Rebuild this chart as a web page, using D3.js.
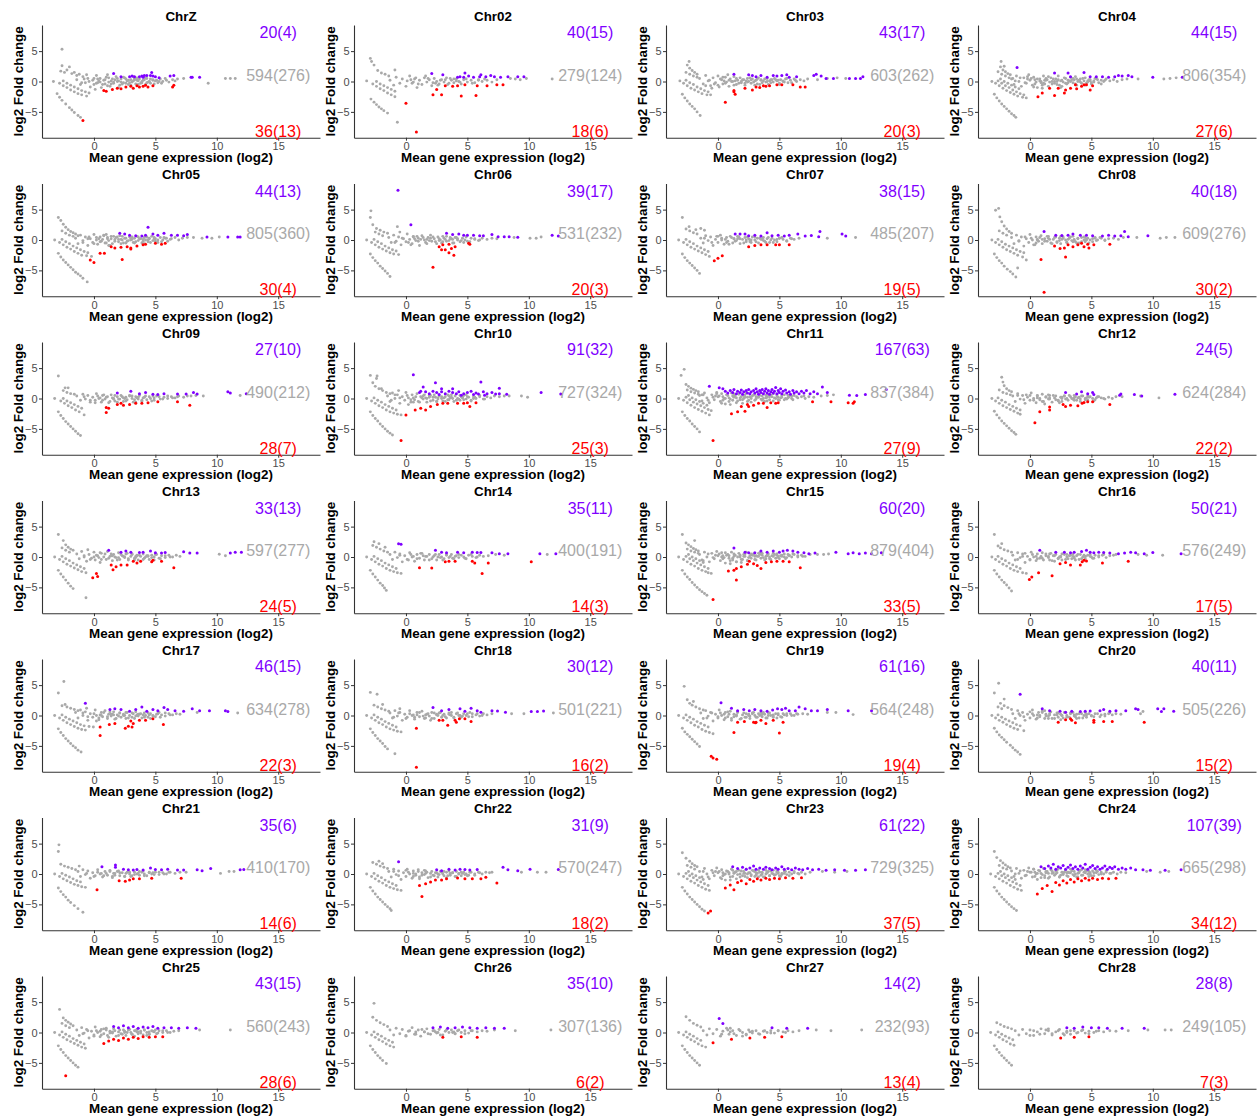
<!DOCTYPE html>
<html><head><meta charset="utf-8">
<script src="https://cdn.jsdelivr.net/npm/d3@7"></script>
<style>
body{margin:0;background:#fff}
svg{display:block}
text{font-family:"Liberation Sans",Arial,Helvetica,sans-serif}
</style>
</head><body>
<svg id="chart" width="1257" height="1118"></svg>
<script>
// MA plots per chromosome: mean expression (log2) vs log2 fold change
const chromosomes = ["ChrZ","Chr02","Chr03","Chr04","Chr05","Chr06","Chr07","Chr08","Chr09","Chr10","Chr11","Chr12","Chr13","Chr14","Chr15","Chr16","Chr17","Chr18","Chr19","Chr20","Chr21","Chr22","Chr23","Chr24","Chr25","Chr26","Chr27","Chr28"];
const upCounts   = [20,40,43,44,44,39,38,40,27,91,167,24,33,35,60,50,46,30,61,40,35,31,61,107,43,35,14,28];
const upUnique   = [4,15,17,15,13,17,15,18,10,32,63,5,13,11,20,21,15,12,16,11,6,9,22,39,15,10,2,8];
const nsCounts   = [594,279,603,806,805,531,485,609,490,727,837,624,597,400,879,576,634,501,564,505,410,570,729,665,560,307,232,249];
const nsUnique   = [276,124,262,354,360,232,207,276,212,324,384,284,277,191,404,249,278,221,248,226,170,247,325,298,243,136,93,105];
const downCounts = [36,18,20,27,30,20,19,30,28,25,27,22,24,14,33,17,22,16,19,15,14,18,37,34,28,6,13,7];
const downUnique = [13,6,3,6,4,3,5,2,7,3,9,2,5,3,5,5,3,2,4,2,6,2,5,12,6,2,4,3];
const xTicks = [0,5,10,15];
const yTicks = [-5,0,5];

// non-significant genes ("x y" pairs: mean log2 expression, log2 fold change)
const nsPoints = [
"-3.3 0,-2.6 5.3,-2.6 2.6,-2.7 1.7,-2.0 2.4,-2.4 1.5,-2.2 1.9,-1.8 1.3,-1.6 1.5,-1.4 1.0,-1.2 1.2,-2.8 -0.3,-2.5 -0.7,-2.2 -1.0,-1.9 -1.4,-1.6 -1.7,-1.3 -2.0,-1.0 -2.2,-0.6 -2.4,-2.5 0.1,-2.2 -0.3,-1.9 -0.6,-1.6 -0.9,-1.3 -1.2,-1.0 -1.5,-0.7 -1.7,-0.4 -1.9,-3.0 -2.0,-2.8 -2.6,-2.6 -3.1,-2.3 -3.7,-2.0 -4.3,-1.8 -4.7,-1.6 -5.1,-1.3 -5.6,-1.1 -5.9,-1.4 0.3,-1.1 -0.5,-0.9 0.8,-0.7 -0.2,-0.5 0.5,-0.3 -0.9,-0.1 0.2,0 -0.5,0.2 1.0,0.3 -0.2,0.5 0.5,0.6 -1.0,0.8 0.2,0.9 -0.4,1.0 0.7,1.2 -0.1,1.3 -0.8,1.5 0.4,1.6 -0.3,1.8 0.8,1.9 0,2.1 -0.6,2.2 0.4,2.4 -0.2,2.5 0.6,2.7 0.1,2.8 -0.5,3.0 0.3,3.1 -0.1,3.3 0.5,3.4 -0.4,3.6 0.1,3.7 0.4,3.9 -0.2,4.0 0.2,4.2 -0.5,4.3 0.5,4.5 0,4.6 -0.3,4.8 0.3,5.0 0.1,5.2 -0.2,5.4 0.4,5.6 0,5.9 0.2,6.1 -0.1,6.4 0.3,6.6 0.1,-0.6 1.1,0.1 -1.3,1.1 1.1,2.0 -1.0,3.2 0.8,0.4 0.1,1.4 0.1,2.6 -0.3,3.5 0.2,4.4 -0.1,6.8 0.4,7.3 0.5,9.3 -0.3,10.7 0.5,11.1 0.5,11.5 0.5",
"-3.2 0.1,-2.9 3.8,-2.8 3.3,-2.6 2.7,-2.0 1.4,-0.9 1.9,-2.3 1.8,-1.7 1.2,-1.4 0.9,-2.7 -0.4,-2.4 -0.8,-2.1 -1.2,-1.8 -1.5,-1.5 -1.9,-1.2 -2.2,-0.9 -2.5,-2.4 0,-2.1 -0.4,-1.8 -0.7,-1.5 -1.0,-1.2 -1.3,-0.9 -1.6,-2.85 -2.9,-2.6 -3.4,-2.4 -3.8,-2.2 -4.2,-2.0 -4.5,-1.8 -4.8,-1.5 -5.2,-0.7 -6.7,-1.3 0.2,-1.0 -0.6,-0.8 0.7,-0.5 -0.3,-0.3 0.4,0 -0.8,0.1 0.1,0.3 0.9,0.5 -0.3,0.7 0.4,0.9 -1.0,1.1 0.2,1.3 -0.5,1.5 0.6,1.7 -0.1,1.9 0.3,2.1 -0.7,2.3 0.5,2.5 0,2.7 -0.4,2.9 0.3,3.1 -0.1,3.3 0.6,3.5 -0.3,3.7 0.2,3.9 -0.2,4.1 0.4,4.3 0,4.5 -0.4,4.7 0.3,5.0 -0.1,5.3 0.2,5.6 -0.2,5.9 0.3,6.2 0,6.6 0.2,7.0 -0.1,7.4 0.3,0.6 -0.1,1.6 0.9,2.4 -0.3,3.6 0.5,8.5 0.5,8.9 0.4,9.3 0.3,9.8 0.5,11.9 0.4",
"-3.1 0.1,-2.35 3.3,-2.5 2.7,-2.3 2.2,-2.1 1.8,-1.9 1.5,-1.7 1.2,-2.6 1.5,-2.3 1.2,-2.0 0.9,-1.7 0.7,-2.8 -0.3,-2.5 -0.7,-2.2 -1.1,-1.9 -1.4,-1.6 -1.7,-1.3 -2.0,-0.9 -2.2,-0.6 -2.2,-2.6 0.2,-2.3 -0.2,-2.0 -0.5,-1.7 -0.9,-1.4 -1.2,-1.1 -1.5,-0.8 -1.7,-2.9 -2.1,-2.7 -2.7,-2.5 -3.2,-2.3 -3.7,-2.1 -4.1,-1.9 -4.5,-1.7 -5.0,-1.45 -5.6,-1.5 0.5,-1.2 -0.4,-1.0 1.0,-0.8 0.1,-0.6 -0.7,-0.4 0.6,-0.2 -0.2,0 0.9,0.1 -0.9,0.3 0.3,0.4 -0.4,0.6 0.7,0.7 -0.1,0.9 -0.8,1.0 0.4,1.2 0,1.3 0.8,1.5 -0.5,1.6 0.2,1.8 0.6,1.9 -0.2,2.1 0.3,2.2 -0.6,2.4 0.5,2.5 0,2.7 -0.3,2.8 0.4,3.0 0.1,3.2 -0.4,3.3 0.6,3.5 0.2,3.6 -0.2,3.8 0.4,4.0 0,4.1 -0.5,4.3 0.3,4.5 -0.1,4.6 0.5,4.8 0.1,5.0 -0.3,5.1 0.3,5.3 0,5.5 0.4,5.7 -0.2,5.9 0.2,6.2 0.4,6.4 0,6.7 0.3,7.0 0.1,7.3 0.4,0.5 0.1,1.4 0.1,2.3 0.1,3.1 0.2,4.2 0.1,-0.5 -1.1,0.8 1.1,8.1 0.3,8.9 0.5,9.7 0.6,10.4 0.5",
"-3.1 0,-2.35 3.3,-2.1 2.5,-2.4 2.4,-2.2 1.9,-2.0 1.6,-1.8 1.3,-1.6 1.1,-2.6 1.6,-2.3 1.2,-2.0 0.9,-1.7 0.6,-1.4 0.5,-2.8 -0.3,-2.5 -0.7,-2.2 -1.1,-1.9 -1.5,-1.6 -1.8,-1.3 -2.1,-1.0 -2.4,-0.6 -2.6,-0.3 -2.7,-2.6 0.1,-2.3 -0.3,-2.0 -0.7,-1.7 -1.0,-1.4 -1.4,-1.1 -1.7,-0.8 -2.0,-0.5 -2.2,-2.4 0.4,-2.1 0,-1.8 -0.3,-1.5 -0.6,-1.2 -0.9,-0.9 -1.2,-2.9 -2.1,-2.7 -2.7,-2.5 -3.2,-2.3 -3.7,-2.1 -4.1,-1.9 -4.5,-1.7 -4.9,-1.5 -5.3,-1.3 -5.6,-1.15 -5.9,-1.5 0.4,-1.3 -0.5,-1.1 0.9,-0.9 0,-0.7 -0.8,-0.5 0.6,-0.3 -0.3,-0.1 1.1,0 0.2,0.2 -0.6,0.3 0.7,0.5 -0.1,0.6 -1.0,0.8 0.4,0.9 0,1.1 0.9,1.2 -0.4,1.4 0.3,1.5 -0.8,1.7 0.6,1.8 0,2.0 -0.3,2.1 0.4,2.3 0.9,2.4 -0.6,2.6 0.2,2.7 -0.1,2.9 0.5,3.0 -0.4,3.2 0.1,3.3 0.7,3.5 -0.2,3.6 0.3,3.8 -0.6,3.9 0,4.1 0.4,4.2 -0.3,4.4 0.1,4.5 0.6,4.7 -0.1,4.8 0.3,5.0 -0.4,5.2 0.1,5.4 0.5,5.6 -0.2,5.8 0.2,6.0 0,6.2 0.4,6.5 0.1,6.8 0.3,7.1 0,7.5 0.3,7.9 0.4,0.4 0.3,1.3 0.2,2.2 0,3.1 0.2,4.0 0.2,4.9 0.1,-0.2 0.4,1.0 -1.1,2.5 -1.0,3.7 0.8,8.8 0.4,10.9 0.4,11.4 0.5,11.9 0.6",
"-3.2 0,-2.9 3.7,-2.7 3.2,-2.5 2.6,-2.3 2.1,-2.1 1.7,-1.9 1.4,-1.7 1.2,-1.5 1.0,-2.6 1.5,-2.3 1.1,-2.0 0.8,-1.7 0.6,-2.8 -0.4,-2.5 -0.8,-2.2 -1.2,-1.9 -1.5,-1.6 -1.9,-1.3 -2.2,-1.0 -2.5,-0.6 -2.6,-0.2 -2.7,-2.6 0.1,-2.3 -0.3,-2.0 -0.6,-1.7 -1.0,-1.4 -1.3,-1.1 -1.6,-0.8 -1.9,-0.5 -2.1,-2.9 -2.2,-2.7 -2.8,-2.5 -3.3,-2.3 -3.7,-2.1 -4.1,-1.9 -4.5,-1.7 -4.9,-1.5 -5.3,-1.3 -5.6,-1.1 -5.9,-0.9 -6.3,-0.55 -6.9,-1.5 0.3,-1.3 -0.6,-1.1 0.8,-0.9 -0.1,-0.7 0.5,-0.5 -0.9,-0.3 0.2,-0.1 -0.4,0 0.9,0.2 0,0.3 -0.7,0.5 0.5,0.6 -0.2,0.8 0.8,0.9 -0.5,1.1 0.2,1.2 -0.1,1.4 0.6,1.5 -0.6,1.7 0.1,1.8 0.4,2.0 -0.3,2.1 0.7,2.3 0,2.4 -0.5,2.6 0.3,2.7 -0.2,2.9 0.5,3.0 0,3.2 -0.4,3.3 0.3,3.5 0.6,3.6 -0.1,3.8 0.2,3.9 -0.5,4.1 0.4,4.2 0,4.4 -0.3,4.5 0.3,4.7 0.6,4.8 -0.1,5.0 0.2,5.2 -0.4,5.4 0.4,5.6 0,5.8 0.3,6.0 -0.2,6.3 0.2,6.6 0.4,6.9 0,7.2 0.3,7.6 0.4,0.4 0.2,1.3 -0.9,2.2 0.1,3.1 0.1,4.0 0.1,4.9 0.2,-0.4 0.5,1.0 0.9,8.1 0.4,8.8 0.3,9.6 0.3,10.2 0.5",
"-3.2 0,-2.85 4.8,-2.9 3.7,-2.7 2.5,-2.4 1.9,-2.1 1.6,-1.8 1.3,-0.7 2.2,-1.5 1.1,-2.5 1.3,-2.2 1.0,-1.9 0.7,-2.8 -0.4,-2.5 -0.8,-2.2 -1.2,-1.9 -1.5,-1.6 -1.8,-1.3 -2.1,-1.0 -2.3,-0.6 -2.4,-2.6 0.1,-2.3 -0.3,-2.0 -0.6,-1.7 -1.0,-1.4 -1.3,-1.1 -1.6,-0.8 -1.8,-2.9 -2.3,-2.7 -2.9,-2.5 -3.4,-2.3 -3.8,-2.1 -4.3,-1.9 -4.7,-1.7 -5.1,-1.5 -5.5,-1.3 -6.0,-1.4 0.4,-1.2 -0.4,-1.0 0.8,-0.8 -0.2,-0.6 0.5,-0.4 -0.8,-0.2 0.2,0 -0.3,0.1 1.0,0.3 0.1,0.5 -0.6,0.6 0.6,0.8 -0.1,1.0 0.3,1.1 -0.9,1.3 0.7,1.5 0,1.6 -0.4,1.8 0.4,2.0 0.8,2.1 -0.2,2.3 0.2,2.5 -0.6,2.6 0.5,2.8 0,3.0 -0.3,3.1 0.3,3.3 0.6,3.5 -0.1,3.7 0.2,3.8 -0.5,4.0 0.4,4.2 0,4.4 -0.3,4.6 0.3,4.8 0,5.0 -0.2,5.3 0.3,5.6 0.1,5.9 -0.1,6.2 0.3,6.6 0.1,7.0 0.3,7.4 0.2,0.7 0.2,1.7 0.1,2.7 -0.1,3.6 0.2,-0.5 1.3,8.8 0.4,10.1 0.3,10.6 0.3,11.0 0.5",
"-3.2 0,-2.9 3.7,-2.35 2.2,-1.4 1.9,-2.6 1.8,-2.3 1.5,-2.0 1.2,-1.7 1.0,-1.1 1.6,-1.8 1.7,-2.8 -0.4,-2.5 -0.8,-2.2 -1.2,-1.9 -1.5,-1.6 -1.8,-1.3 -2.1,-1.0 -2.4,-0.7 -2.7,-2.6 0.1,-2.3 -0.3,-2.0 -0.6,-1.7 -1.0,-1.4 -1.3,-1.1 -1.6,-0.8 -1.9,-2.9 -2.3,-2.7 -2.9,-2.5 -3.4,-2.3 -3.8,-2.1 -4.2,-1.9 -4.6,-1.7 -5.0,-1.5 -5.5,-1.4 0.3,-1.2 -0.5,-1.0 0.7,-0.8 -0.1,-0.6 0.5,-0.4 -0.9,-0.2 0.1,0 -0.4,0.2 0.8,0.3 0,0.5 -0.7,0.7 0.4,0.8 -0.2,1.0 0.6,1.2 -0.5,1.3 0.2,1.5 -0.1,1.7 0.5,1.8 -0.6,2.0 0.1,2.2 0.4,2.3 -0.3,2.5 0.2,2.7 -0.4,2.8 0.5,3.0 0,3.2 0.3,3.3 -0.5,3.5 0.1,3.7 0.4,3.8 -0.2,4.0 0.2,4.2 -0.4,4.4 0.3,4.6 0,4.8 -0.3,5.0 0.3,5.3 0.1,5.6 -0.1,5.9 0.3,6.2 0.1,6.6 0.3,0.6 0.1,1.6 0.2,2.6 0,3.6 0.1,-0.1 0.6,8.9 0.3,11.2 0.4",
"-3.1 0,-2.8 4.9,-2.55 5.2,-2.45 3.8,-2.3 3.0,-2.1 2.3,-1.9 1.8,-1.7 1.4,-1.5 1.1,-2.5 1.5,-2.2 1.1,-1.9 0.8,-2.8 -0.4,-2.5 -0.8,-2.2 -1.2,-1.9 -1.6,-1.6 -1.9,-1.3 -2.2,-1.0 -2.5,-0.6 -2.8,-0.3 -3.3,-2.6 0.1,-2.3 -0.3,-2.0 -0.7,-1.7 -1.0,-1.4 -1.3,-1.1 -1.6,-0.8 -1.9,-0.5 -2.1,-2.9 -2.3,-2.7 -2.9,-2.5 -3.4,-2.3 -3.8,-2.1 -4.3,-1.85 -4.8,-1.6 -5.2,-1.4 -5.6,-1.15 -6.1,-1.0 -4.6,-1.5 0.4,-1.3 -0.6,-1.1 0.8,-0.9 -0.1,-0.7 0.5,-0.5 -1.0,-0.3 0.2,-0.1 -0.4,0 0.9,0.2 0,0.4 -0.8,0.5 0.5,0.7 -0.2,0.9 0.7,1.0 -0.6,1.2 0.2,1.4 -0.2,1.5 0.6,1.7 -0.5,1.9 0.1,2.0 0.4,2.2 -0.3,2.4 0.3,2.5 -0.6,2.7 0.5,2.9 0,3.0 -0.4,3.2 0.3,3.4 -0.1,3.5 0.6,3.7 -0.3,3.9 0.2,4.0 -0.5,4.2 0.4,4.4 0,4.5 -0.3,4.7 0.3,4.9 0,5.1 -0.3,5.3 0.3,5.5 0,5.8 0.3,6.1 -0.1,6.4 0.2,6.8 0.3,7.2 0.1,7.6 0.4,0.6 0.1,1.6 0.1,2.6 0.1,3.6 0.1,4.6 0.1,8.7 0.4,10.6 0.3,11.1 0.4,11.8 0.4",
"-3.2 0,-2.9 3.7,-2.35 1.75,-2.1 1.75,-2.5 1.3,-2.2 1.0,-1.9 0.8,-1.6 0.7,-2.7 -0.4,-2.4 -0.8,-2.1 -1.2,-1.8 -1.5,-1.5 -1.9,-1.2 -2.2,-0.8 -2.7,-2.5 0,-2.2 -0.4,-1.9 -0.7,-1.6 -1.0,-1.3 -1.3,-1.0 -1.6,-2.9 -2.2,-2.7 -2.8,-2.5 -3.3,-2.3 -3.8,-2.1 -4.2,-1.9 -4.6,-1.7 -5.0,-1.5 -5.4,-1.3 -5.8,-1.1 -6.1,-1.4 0.4,-1.1 -0.3,-0.9 0.7,-0.7 -0.1,-0.5 0.5,-0.3 -0.6,-0.1 0.2,0.1 -0.3,0.2 0.8,0.4 0,0.6 -0.6,0.7 0.5,0.9 -0.1,1.1 0.3,1.2 -0.7,1.4 0.6,1.6 0,1.7 -0.4,1.9 0.3,2.1 -0.1,2.2 0.5,2.4 -0.5,2.6 0.2,2.7 -0.2,2.9 0.4,3.1 0,3.2 -0.6,3.4 0.3,3.6 -0.1,3.7 0.5,3.9 -0.3,4.1 0.2,4.3 -0.2,4.5 0.3,4.7 -0.4,4.9 0.1,5.1 0.4,5.4 -0.1,5.7 0.2,6.0 0,6.3 0.3,6.6 0.1,6.9 0.4,7.3 0.2,7.6 0.4,7.9 0.4,8.3 0.5,8.9 0.4,0.5 0.1,1.5 0.1,2.5 0,3.5 0.1,11.9 0.5",
"-3.2 0,-2.9 3.8,-2.4 3.3,-2.35 3.7,-2.0 1.6,-2.7 2.6,-2.5 2.0,-2.2 1.6,-1.9 1.3,-1.6 1.0,-1.3 0.8,-2.8 -0.4,-2.5 -0.8,-2.2 -1.2,-1.9 -1.5,-1.6 -1.9,-1.3 -2.2,-1.0 -2.4,-0.7 -2.6,-0.4 -2.7,-2.6 0.1,-2.3 -0.3,-2.0 -0.6,-1.7 -1.0,-1.4 -1.3,-1.1 -1.6,-0.8 -1.9,-2.9 -2.2,-2.7 -2.8,-2.5 -3.3,-2.3 -3.7,-2.1 -4.2,-1.9 -4.6,-1.7 -5.0,-1.5 -5.4,-1.3 -5.7,-1.1 -6.0,-1.5 0.4,-1.3 -0.5,-1.1 0.9,-0.9 0,-0.7 0.6,-0.5 -0.8,-0.3 0.3,-0.1 -0.3,0 1.0,0.2 0.1,0.4 -0.6,0.5 0.6,0.7 -0.2,0.9 0.8,1.0 -0.5,1.2 0.3,1.4 -0.1,1.5 0.6,1.7 -0.6,1.9 0.2,2.0 0.5,2.2 -0.3,2.4 0.2,2.5 -0.5,2.7 0.4,2.9 0,3.0 -0.4,3.2 0.3,3.4 0.6,3.5 -0.2,3.7 0.2,3.9 -0.5,4.0 0.4,4.2 0,4.4 -0.3,4.5 0.3,4.7 0.5,4.9 -0.1,5.1 0.2,5.3 -0.3,5.5 0.3,5.7 0,6.0 0.3,6.3 -0.1,6.6 0.3,6.9 0.1,7.2 0.4,7.6 0.3,8.0 0.4,0.6 0.1,1.6 0.1,2.6 0.1,3.6 0.1,4.6 0.1,-0.6 1.3,8.4 0.4,9.4 0.4,9.9 0.2",
"-3.2 0,-3.0 3.8,-2.75 4.8,-2.6 2.3,-2.4 2.0,-2.2 1.7,-2.0 1.5,-1.8 1.3,-1.6 1.1,-2.5 1.4,-2.2 1.1,-1.9 0.9,-1.6 0.7,-1.3 0.6,-2.8 -0.3,-2.5 -0.7,-2.2 -1.1,-1.9 -1.5,-1.6 -1.8,-1.3 -2.1,-1.0 -2.4,-0.7 -2.7,-2.6 0.2,-2.3 -0.2,-2.0 -0.6,-1.7 -0.9,-1.4 -1.2,-1.1 -1.5,-0.8 -1.8,-0.55 -2.0,-2.4 0.5,-2.1 0.1,-1.8 -0.2,-1.5 -0.5,-1.2 -0.8,-0.9 -1.1,-2.9 -2.2,-2.7 -2.8,-2.5 -3.3,-2.3 -3.7,-2.1 -4.2,-1.9 -4.6,-1.7 -5.0,-1.5 -5.5,-1.5 0.5,-1.3 -0.4,-1.1 0.9,-0.9 0.1,-0.7 -0.7,-0.5 0.6,-0.3 -0.2,-0.1 1.0,0 0.3,0.2 -0.5,0.3 0.8,0.5 0,0.6 -0.9,0.8 0.5,0.9 0.1,1.1 0.9,1.2 -0.3,1.4 0.4,1.5 -0.7,1.7 0.7,1.8 0.1,2.0 -0.2,2.1 0.5,2.3 0.9,2.4 -0.5,2.6 0.3,2.7 0,2.9 0.6,3.0 -0.3,3.2 0.2,3.3 0.8,3.5 -0.1,3.6 0.4,3.8 -0.5,3.9 0.1,4.1 0.6,4.2 -0.2,4.4 0.3,4.5 0.8,4.7 0,4.8 0.4,5.0 -0.3,5.2 0.2,5.4 0.6,5.6 -0.1,5.8 0.3,6.0 0,6.2 0.5,6.5 0.1,6.8 0.3,7.1 0,7.4 0.3,7.8 0.2,0.4 0.3,1.3 0.2,2.2 0.2,3.1 0.3,4.0 0.2,4.9 0.2,5.7 0.5,-0.2 0.4,1.0 -1.0,2.0 -0.8,8.4 0.4,8.9 0.5,9.4 0.6",
"-3.1 0,-2.3 3.5,-2.2 2.7,-2.1 2.1,-1.9 1.6,-1.7 1.3,-1.5 1.1,-2.5 1.4,-2.2 1.0,-1.9 0.8,-1.6 0.6,-2.8 -0.4,-2.5 -0.8,-2.2 -1.2,-1.9 -1.5,-1.6 -1.8,-1.3 -2.1,-1.0 -2.4,-0.8 -2.6,-2.6 0.1,-2.3 -0.3,-2.0 -0.6,-1.7 -1.0,-1.4 -1.3,-1.1 -1.6,-0.8 -1.9,-2.9 -2.1,-2.7 -2.7,-2.5 -3.2,-2.3 -3.7,-2.1 -4.1,-1.9 -4.5,-1.7 -4.9,-1.5 -5.3,-1.3 -5.6,-1.15 -5.9,-1.4 0.4,-1.2 -0.5,-1.0 0.8,-0.8 -0.1,-0.6 0.5,-0.4 -0.8,-0.2 0.2,0 -0.3,0.1 0.9,0.3 0,0.5 -0.7,0.6 0.5,0.8 -0.2,1.0 0.7,1.1 -0.5,1.3 0.2,1.5 -0.1,1.6 0.5,1.8 -0.6,2.0 0.1,2.1 0.4,2.3 -0.3,2.5 0.2,2.6 -0.5,2.8 0.4,3.0 0,3.1 -0.3,3.3 0.3,3.5 -0.1,3.6 0.5,3.8 -0.3,4.0 0.2,4.1 -0.1,4.3 0.4,4.5 0,4.7 -0.3,4.9 0.3,5.1 0,5.3 -0.2,5.5 0.3,5.8 0.1,6.1 -0.1,6.4 0.2,6.7 0,7.0 0.3,0.6 0.1,1.6 0.1,2.6 0,3.6 0.1,4.6 0.1,-0.3 0.6,7.5 0.3,9.0 0.4,10.5 0.1",
"-3.2 0,-2.9 3.7,-2.5 2.7,-2.3 2.0,-2.1 1.6,-1.9 1.3,-1.7 1.1,-2.6 1.5,-2.3 1.1,-2.0 0.8,-2.8 -0.4,-2.5 -0.8,-2.2 -1.2,-1.9 -1.5,-1.6 -1.8,-1.3 -2.1,-1.0 -2.4,-0.65 -2.6,-2.6 0.1,-2.3 -0.3,-2.0 -0.6,-1.7 -1.0,-1.4 -1.3,-1.1 -1.6,-0.8 -1.9,-2.9 -2.2,-2.7 -2.8,-2.5 -3.3,-2.3 -3.8,-2.1 -4.3,-1.9 -4.8,-1.7 -5.2,-0.65 -6.7,-1.4 0.5,-1.2 -0.3,-1.0 0.9,-0.8 0,-0.6 -0.7,-0.4 0.4,-0.2 -0.2,0 0.8,0.1 -0.5,0.3 0.2,0.5 -0.9,0.6 0.6,0.8 0,1.0 -0.4,1.1 0.9,1.3 0.1,1.5 -0.6,1.6 0.4,1.8 -0.1,2.0 0.7,2.1 -0.4,2.3 0.2,2.5 -0.1,2.6 0.5,2.8 -0.5,3.0 0.1,3.1 0.4,3.3 -0.2,3.5 0.3,3.6 -0.5,3.8 0.1,4.0 0.5,4.1 -0.2,4.3 0.2,4.5 -0.4,4.7 0.3,4.9 0,5.1 0.4,5.3 -0.2,5.5 0.2,5.8 -0.1,6.1 0.3,6.4 0,6.7 0.3,7.0 0.1,0.4 -0.1,1.4 0.2,2.4 0.1,3.4 0.1,4.4 0.1,-0.5 1.2,10.2 0.45,10.7 0.2",
"-3.2 0,-2.6 2.5,-2.2 2.2,-1.7 1.6,-2.7 1.9,-2.4 1.6,-2.1 1.3,-1.8 1.0,-1.5 0.8,-2.8 -0.4,-2.5 -0.8,-2.2 -1.2,-1.9 -1.5,-1.6 -1.9,-1.3 -2.2,-1.0 -2.4,-0.7 -2.6,-0.4 -2.7,-2.6 0.1,-2.3 -0.3,-2.0 -0.6,-1.7 -1.0,-1.4 -1.3,-1.1 -1.6,-0.8 -1.9,-2.9 -2.2,-2.7 -2.8,-2.5 -3.3,-2.3 -3.8,-2.1 -4.3,-1.9 -4.7,-1.75 -5.1,-1.6 -5.5,-1.3 0.4,-1.1 -0.4,-0.9 0.8,-0.7 -0.1,-0.5 0.5,-0.3 -0.8,-0.1 0.2,0.1 -0.4,0.3 0.7,0.5 0,0.7 -0.7,0.9 0.4,1.1 -0.2,1.3 0.6,1.5 -0.5,1.7 0.1,1.9 0.4,2.1 -0.3,2.3 0.2,2.5 -0.5,2.7 0.4,2.9 0,3.1 -0.3,3.3 0.3,3.5 -0.1,3.7 0.4,3.9 -0.3,4.1 0.2,4.3 -0.1,4.5 0.3,4.7 0,4.9 -0.3,5.1 0.3,5.4 0.1,5.7 -0.1,6.0 0.3,6.3 0.1,6.7 0.2,0.6 0.1,1.6 0.1,2.6 0,3.6 0.1,7.3 0.4,8.0 0.3,11.5 0.4",
"-3.2 0,-2.9 3.7,-1.9 2.7,-2.6 2.3,-2.4 2.0,-2.2 1.7,-2.0 1.4,-1.8 1.2,-1.6 1.0,-2.5 1.3,-2.2 1.0,-1.9 0.8,-1.6 0.6,-2.8 -0.4,-2.5 -0.8,-2.2 -1.2,-1.9 -1.5,-1.6 -1.9,-1.3 -2.2,-1.0 -2.4,-0.8 -2.6,-0.55 -2.7,-2.6 0.1,-2.3 -0.3,-2.0 -0.6,-1.7 -1.0,-1.4 -1.3,-1.1 -1.6,-0.8 -1.9,-2.4 0.4,-2.1 0,-1.8 -0.3,-1.5 -0.6,-1.2 -0.9,-2.9 -2.2,-2.7 -2.8,-2.5 -3.3,-2.3 -3.7,-2.1 -4.2,-1.9 -4.6,-1.7 -5.0,-1.5 -5.4,-1.3 -5.7,-1.1 -6.0,-0.9 -6.3,-1.5 0.4,-1.3 -0.5,-1.1 0.8,-0.9 0,-0.7 -0.8,-0.5 0.6,-0.3 -0.3,-0.1 0.9,0 0.2,0.2 -0.6,0.3 0.7,0.5 -0.1,0.6 -1.0,0.8 0.4,0.9 -0.2,1.1 0.8,1.2 -0.5,1.4 0.3,1.5 -0.8,1.7 0.6,1.8 0,2.0 -0.4,2.1 0.4,2.3 0.8,2.4 -0.6,2.6 0.2,2.7 -0.2,2.9 0.5,3.0 -0.4,3.2 0.1,3.3 0.6,3.5 -0.2,3.6 0.3,3.8 -0.5,3.9 0.1,4.1 0.5,4.2 -0.3,4.4 0.2,4.5 0.6,4.7 -0.2,4.8 0.3,5.0 -0.3,5.2 0.1,5.4 0.5,5.6 -0.1,5.8 0.3,6.0 0,6.2 0.4,6.5 0,6.8 0.3,7.1 0.1,7.5 0.4,0.4 0.2,1.3 0.1,2.2 0.1,3.1 0.2,4.0 0.2,4.9 0.1,-0.2 0.3,1.0 -1.1,1.9 -0.9,3.4 0.7,8.1 0.4,8.6 0.4,9.0 0.5",
"-3.1 0,-2.9 3.7,-2.3 2.2,-2.6 1.8,-2.4 1.5,-2.1 1.2,-1.8 1.0,-1.5 0.8,-2.8 -0.4,-2.5 -0.8,-2.2 -1.2,-1.9 -1.5,-1.6 -1.9,-1.3 -2.2,-1.0 -2.4,-0.6 -2.6,-0.3 -2.7,-2.6 0.1,-2.3 -0.3,-2.0 -0.6,-1.7 -1.0,-1.4 -1.3,-1.1 -1.6,-0.8 -1.9,-2.9 -2.2,-2.7 -2.8,-2.5 -3.3,-2.3 -3.8,-2.1 -4.2,-1.9 -4.6,-1.7 -5.1,-1.5 -5.6,-1.4 0.3,-1.2 -0.5,-1.0 0.7,-0.8 -0.1,-0.6 0.5,-0.4 -0.9,-0.2 0.1,0 -0.4,0.1 0.8,0.3 0,0.5 -0.6,0.6 0.5,0.8 -0.2,1.0 0.7,1.1 -0.5,1.3 0.2,1.5 -0.1,1.6 0.5,1.8 -0.6,2.0 0.2,2.1 0.4,2.3 -0.3,2.5 0.1,2.6 -0.5,2.8 0.4,3.0 0,3.1 -0.3,3.3 0.3,3.5 0.5,3.6 -0.2,3.8 0.2,4.0 -0.4,4.1 0.4,4.3 0,4.5 -0.3,4.7 0.3,4.9 0.1,5.1 -0.2,5.3 0.3,5.6 0,5.9 0.3,6.2 -0.1,6.5 0.2,6.8 0.3,0.5 0.1,1.5 0.1,2.5 0,3.5 0.1,4.5 0.1,-0.4 0.6,7.0 0.4,8.8 0.4,9.5 0.3,10.8 0.3",
"-3.2 0,-2.45 5.6,-2.9 3.7,-2.35 1.8,-2.6 1.6,-2.2 1.4,-1.9 1.2,-1.6 1.0,-1.3 0.8,-2.8 -0.4,-2.5 -0.8,-2.2 -1.2,-1.9 -1.5,-1.6 -1.8,-1.3 -2.1,-1.0 -2.3,-0.7 -2.4,-2.6 0.1,-2.3 -0.3,-2.0 -0.6,-1.7 -0.9,-1.4 -1.2,-1.1 -1.5,-0.8 -1.7,-0.4 -1.8,-0.05 -1.9,-2.9 -2.2,-2.7 -2.8,-2.5 -3.3,-2.3 -3.8,-2.1 -4.2,-1.9 -4.6,-1.7 -5.0,-1.5 -5.3,-1.3 -5.7,-1.05 -6.0,-1.5 0.5,-1.3 -0.4,-1.1 0.9,-0.9 0,-0.7 0.6,-0.5 -0.8,-0.3 0.3,-0.1 -0.3,0.1 0.9,0.2 0,0.4 -0.7,0.6 0.5,0.7 -0.2,0.9 0.8,1.1 -0.5,1.2 0.2,1.4 -0.1,1.6 0.6,1.7 -0.6,1.9 0.1,2.1 0.4,2.2 -0.3,2.4 0.2,2.6 -0.5,2.7 0.5,2.9 0,3.1 -0.3,3.2 0.3,3.4 0.6,3.6 -0.1,3.7 0.2,3.9 -0.4,4.1 0.4,4.2 0,4.4 -0.3,4.6 0.3,4.8 0,5.0 -0.2,5.2 0.3,5.5 0.1,5.8 -0.1,6.1 0.3,6.4 0.1,6.7 0.3,7.0 0.2,0.5 0.1,1.5 0.2,2.5 0,3.5 0.1,4.5 0.1,-0.6 1.2,8.4 0.5,11.7 0.4",
"-3.2 0,-2.9 3.8,-2.35 3.5,-1.9 1.8,-2.6 1.7,-2.3 1.4,-2.0 1.1,-1.7 0.9,-1.4 0.7,-2.8 -0.4,-2.5 -0.8,-2.2 -1.2,-1.9 -1.5,-1.6 -1.9,-1.3 -2.2,-1.0 -2.4,-0.7 -2.6,-0.4 -2.7,-2.6 0.1,-2.3 -0.3,-2.0 -0.6,-1.7 -1.0,-1.4 -1.3,-1.1 -1.6,-0.8 -1.9,-2.9 -2.2,-2.7 -2.8,-2.5 -3.3,-2.3 -3.8,-2.1 -4.2,-1.9 -4.6,-1.7 -5.1,-1.5 -5.5,-0.9 -6.3,-1.3 0.4,-1.1 -0.4,-0.9 0.8,-0.7 -0.1,-0.5 0.5,-0.3 -0.8,-0.1 0.2,0.1 -0.3,0.3 0.8,0.5 0,0.7 -0.6,0.9 0.5,1.1 -0.2,1.3 0.7,1.5 -0.5,1.7 0.2,1.9 -0.1,2.1 0.5,2.3 -0.5,2.5 0.2,2.7 0.4,2.9 -0.3,3.1 0.2,3.3 -0.4,3.5 0.4,3.7 0,3.9 -0.3,4.1 0.3,4.3 0,4.5 -0.3,4.7 0.3,4.9 0,5.1 -0.2,5.4 0.3,5.7 0.1,6.0 -0.1,6.3 0.3,6.6 0.1,7.0 0.3,0.6 0.1,1.6 0.1,2.6 0,3.6 0.1,-0.5 1.1,8.6 0.3,9.6 0.3,12.0 0.4",
"-3.2 0,-2.75 4.8,-2.5 2.6,-2.0 2.3,-2.3 2.0,-2.1 1.7,-1.8 1.4,-1.5 1.1,-1.2 0.9,-2.8 -0.4,-2.5 -0.8,-2.2 -1.2,-1.9 -1.6,-1.6 -1.9,-1.3 -2.3,-1.0 -2.6,-0.7 -2.8,-0.4 -3.0,-2.6 0.1,-2.3 -0.3,-2.0 -0.6,-1.7 -1.0,-1.4 -1.3,-1.1 -1.6,-0.8 -1.9,-2.9 -2.1,-2.7 -2.7,-2.5 -3.1,-2.3 -3.5,-2.1 -3.9,-1.9 -4.3,-1.7 -4.7,-1.5 -5.1,-1.4 0.4,-1.2 -0.5,-1.0 0.8,-0.8 -0.1,-0.6 0.5,-0.4 -0.9,-0.2 0.2,0 -0.4,0.1 0.9,0.3 0,0.5 -0.7,0.6 0.5,0.8 -0.2,1.0 0.7,1.1 -0.5,1.3 0.2,1.5 -0.1,1.6 0.6,1.8 -0.6,2.0 0.1,2.1 0.4,2.3 -0.3,2.5 0.2,2.6 -0.5,2.8 0.4,3.0 0,3.1 -0.3,3.3 0.3,3.5 0.5,3.6 -0.2,3.8 0.2,4.0 -0.4,4.1 0.4,4.3 0,4.5 -0.3,4.7 0.3,4.9 0.1,5.1 -0.2,5.3 0.3,5.6 0,5.9 0.3,6.2 0,6.5 0.2,6.9 0.3,7.3 0.2,0.5 0.2,1.5 0.1,2.5 0,3.5 0.1,4.5 0.1,8.9 0.5,9.6 0.5,11.0 0.15",
"-3.1 0,-2.55 5.3,-2.9 3.7,-2.1 2.7,-2.4 2.0,-2.1 1.6,-1.8 1.3,-1.5 1.0,-2.6 1.4,-2.3 1.1,-2.8 -0.4,-2.5 -0.8,-2.2 -1.1,-1.9 -1.5,-1.6 -1.8,-1.3 -2.1,-1.0 -2.3,-0.5 -2.5,-2.6 0.1,-2.3 -0.3,-2.0 -0.6,-1.7 -0.9,-1.4 -1.2,-1.1 -1.5,-0.8 -1.7,-2.9 -2.1,-2.7 -2.7,-2.5 -3.2,-2.3 -3.6,-2.1 -4.0,-1.9 -4.4,-1.6 -4.9,-1.4 -5.3,-1.2 -5.7,-1.0 -6.0,-0.8 -6.4,-1.4 0.3,-1.2 -0.5,-1.0 0.8,-0.8 0,-0.6 0.5,-0.4 -0.8,-0.2 0.2,0 -0.4,0.2 0.9,0.3 0,0.5 -0.6,0.7 0.5,0.8 -0.2,1.0 0.7,1.2 -0.5,1.3 0.2,1.5 -0.1,1.7 0.6,1.8 -0.5,2.0 0.1,2.2 0.4,2.3 -0.3,2.5 0.2,2.7 -0.4,2.8 0.5,3.0 0,3.2 -0.3,3.3 0.3,3.5 0.5,3.7 -0.2,3.8 0.2,4.0 -0.4,4.2 0.3,4.4 0,4.6 -0.3,4.8 0.3,5.0 0,5.2 -0.2,5.5 0.3,5.8 0.1,6.1 -0.1,6.4 0.3,6.7 0.1,7.0 0.3,7.4 0.2,0.6 0.1,1.6 0.1,2.6 0,3.6 0.1,4.6 0.1,9.0 0.3,9.2 0.65",
"-3.2 0,-2.85 4.8,-2.9 3.7,-2.7 1.6,-2.4 1.3,-2.1 1.1,-1.8 0.9,-1.5 0.7,-1.2 1.3,-2.8 -0.4,-2.5 -0.8,-2.2 -1.1,-1.9 -1.4,-1.6 -1.7,-1.3 -1.9,-1.0 -2.1,-0.7 -2.2,-2.6 0.1,-2.3 -0.2,-2.0 -0.5,-1.7 -0.8,-1.4 -1.1,-1.1 -1.3,-2.9 -2.3,-2.7 -2.9,-2.5 -3.4,-2.3 -3.8,-2.1 -4.3,-1.9 -4.7,-1.6 -5.2,-1.3 -5.7,-0.9 -6.3,-1.3 0.4,-1.1 -0.4,-0.9 0.7,-0.7 -0.1,-0.5 0.5,-0.3 -0.7,-0.1 0.2,0.1 -0.3,0.3 0.7,0.5 0,0.7 -0.5,0.9 0.4,1.1 -0.2,1.3 0.6,1.5 -0.4,1.7 0.1,1.9 0.4,2.1 -0.3,2.3 0.2,2.5 -0.4,2.7 0.3,2.9 0,3.1 -0.3,3.3 0.3,3.5 0,3.7 -0.2,3.9 0.3,4.1 0,4.3 -0.3,4.5 0.2,4.7 0,5.0 0.3,5.3 -0.1,5.6 0.2,5.9 0,6.2 0.3,6.6 0.1,7.0 0.3,0.6 0.1,1.6 0.1,2.6 0.1,3.6 0.1,7.5 0.3,10.3 0.1,11.0 0.4,11.4 0.4",
"-3.2 0,-2.2 2.1,-2.7 1.9,-2.4 1.6,-2.1 1.3,-1.8 1.1,-1.5 0.9,-1.9 1.7,-2.8 -0.4,-2.5 -0.8,-2.2 -1.2,-1.9 -1.5,-1.6 -1.9,-1.3 -2.2,-1.0 -2.4,-0.7 -2.6,-0.4 -2.7,-2.6 0.1,-2.3 -0.3,-2.0 -0.6,-1.7 -1.0,-1.4 -1.3,-1.1 -1.6,-0.8 -1.9,-2.9 -2.2,-2.7 -2.8,-2.5 -3.3,-2.3 -3.8,-2.1 -4.2,-1.9 -4.6,-1.7 -5.0,-1.5 -5.4,-1.3 -5.7,-1.2 -6.0,-1.4 0.4,-1.2 -0.5,-1.0 0.8,-0.8 -0.1,-0.6 0.5,-0.4 -0.9,-0.2 0.2,0 -0.4,0.1 0.8,0.3 0,0.5 -0.7,0.6 0.5,0.8 -0.2,1.0 0.7,1.1 -0.5,1.3 0.2,1.5 -0.1,1.6 0.5,1.8 -0.6,2.0 0.1,2.1 0.4,2.3 -0.3,2.5 0.2,2.6 -0.5,2.8 0.4,3.0 0,3.1 -0.3,3.3 0.3,3.5 0.5,3.6 -0.2,3.8 0.2,4.0 -0.4,4.1 0.4,4.3 0,4.5 -0.3,4.7 0.3,4.9 0,5.1 -0.2,5.3 0.3,5.6 0,5.9 0.3,6.2 0,6.5 0.3,6.8 0.2,0.6 0.1,1.6 0.1,2.6 0,3.6 0.1,4.6 0.1,7.0 0.3,9.4 0.3,10.7 0.3,11.4 0.3",
"-3.2 0,-2.9 3.5,-2.6 2.6,-2.3 2.1,-2.1 1.7,-1.9 1.4,-1.7 1.2,-2.5 1.4,-2.2 1.1,-1.9 0.8,-2.8 -0.4,-2.5 -0.8,-2.2 -1.2,-1.9 -1.5,-1.6 -1.9,-1.3 -2.2,-1.0 -2.5,-0.7 -2.7,-2.6 0.1,-2.3 -0.3,-2.0 -0.6,-1.7 -1.0,-1.4 -1.3,-1.1 -1.6,-0.8 -1.9,-2.4 0.4,-2.1 0,-1.8 -0.3,-1.5 -0.6,-1.2 -0.9,-2.9 -2.2,-2.7 -2.8,-2.5 -3.3,-2.3 -3.8,-2.1 -4.2,-1.9 -4.6,-1.7 -5.0,-1.5 -5.4,-1.3 -5.8,-1.1 -6.1,-1.5 0.4,-1.3 -0.5,-1.1 0.9,-0.9 0,-0.7 -0.8,-0.5 0.6,-0.3 -0.3,-0.1 1.0,0 0.2,0.2 -0.6,0.3 0.7,0.5 -0.1,0.6 -1.0,0.8 0.4,0.9 0,1.1 0.8,1.2 -0.4,1.4 0.3,1.5 -0.8,1.7 0.6,1.8 0,2.0 -0.3,2.1 0.4,2.3 0.8,2.4 -0.6,2.6 0.2,2.7 -0.1,2.9 0.5,3.0 -0.4,3.2 0.1,3.3 0.6,3.5 -0.2,3.6 0.3,3.8 -0.5,3.9 0,4.1 0.4,4.2 -0.3,4.4 0.1,4.5 0.6,4.7 -0.1,4.8 0.3,5.0 -0.3,5.2 0.1,5.4 0.5,5.6 -0.1,5.8 0.3,6.0 0,6.2 0.4,6.5 0.1,6.8 0.3,7.1 0,7.5 0.3,0.4 0.2,1.3 0.1,2.2 0.1,3.1 0.2,4.0 0.2,4.9 0.1,-0.2 0.4,1.0 -1.0,8.5 0.4,9.5 0.3,10.5 0.4",
"-3.2 0,-2.9 3.7,-2.7 2.7,-2.4 2.2,-2.2 1.8,-2.0 1.5,-1.8 1.2,-1.6 1.0,-2.5 1.4,-2.2 1.0,-1.9 0.8,-2.8 -0.4,-2.5 -0.8,-2.2 -1.2,-1.9 -1.5,-1.6 -1.9,-1.3 -2.2,-1.0 -2.5,-0.7 -2.7,-2.6 0.1,-2.3 -0.3,-2.0 -0.6,-1.7 -1.0,-1.4 -1.3,-1.1 -1.6,-0.8 -1.9,-2.4 0.4,-2.1 0,-1.8 -0.3,-1.5 -0.6,-1.2 -0.9,-2.9 -2.2,-2.7 -2.8,-2.5 -3.3,-2.3 -3.8,-2.1 -4.2,-1.9 -4.6,-1.7 -5.0,-1.5 -5.4,-1.3 -5.7,-1.1 -6.0,-1.5 0.5,-1.3 -0.4,-1.1 0.9,-0.9 0.1,-0.7 -0.7,-0.5 0.6,-0.3 -0.2,-0.1 1.0,0 0.3,0.2 -0.5,0.3 0.8,0.5 0,0.6 -0.9,0.8 0.5,0.9 0.1,1.1 0.9,1.2 -0.3,1.4 0.4,1.5 -0.7,1.7 0.7,1.8 0.1,2.0 -0.2,2.1 0.5,2.3 0.9,2.4 -0.5,2.6 0.3,2.7 0,2.9 0.6,3.0 -0.3,3.2 0.2,3.3 0.8,3.5 -0.1,3.6 0.4,3.8 -0.5,3.9 0.1,4.1 0.6,4.2 -0.2,4.4 0.3,4.5 0.7,4.7 0,4.8 0.4,5.0 -0.3,5.2 0.2,5.4 0.6,5.6 -0.1,5.8 0.3,6.0 0,6.2 0.5,6.5 0.1,6.8 0.3,7.1 0,7.4 0.3,7.8 0.2,0.4 0.3,1.3 0.2,2.2 0.2,3.1 0.3,4.0 0.2,4.9 0.2,-0.2 0.4,9.5 0.4,10.6 0.3,11.3 0.4",
"-3.2 0,-2.8 3.8,-2.5 2.4,-2.3 2.0,-2.1 1.7,-1.9 1.4,-1.7 1.1,-2.6 1.5,-2.3 1.1,-2.0 0.8,-2.8 -0.4,-2.5 -0.8,-2.2 -1.2,-1.9 -1.5,-1.6 -1.8,-1.3 -2.1,-1.0 -2.4,-0.7 -2.6,-2.6 0.1,-2.3 -0.3,-2.0 -0.6,-1.7 -1.0,-1.4 -1.3,-1.1 -1.6,-0.8 -1.9,-2.9 -2.2,-2.7 -2.8,-2.5 -3.3,-2.3 -3.8,-2.1 -4.2,-1.9 -4.6,-1.7 -5.0,-1.5 -5.4,-1.3 -5.7,-1.4 0.4,-1.2 -0.5,-1.0 0.8,-0.8 -0.1,-0.6 0.5,-0.4 -0.9,-0.2 0.2,0 -0.4,0.1 0.9,0.3 0,0.5 -0.7,0.6 0.5,0.8 -0.2,1.0 0.7,1.1 -0.5,1.3 0.2,1.5 -0.1,1.6 0.6,1.8 -0.6,2.0 0.1,2.1 0.4,2.3 -0.3,2.5 0.2,2.6 -0.5,2.8 0.4,3.0 0,3.1 -0.3,3.3 0.3,3.5 0.5,3.6 -0.2,3.8 0.2,4.0 -0.4,4.1 0.4,4.3 0,4.5 -0.3,4.7 0.3,4.9 0.1,5.1 -0.2,5.3 0.3,5.6 0,5.9 0.3,6.2 0,6.5 0.2,6.9 0.3,0.5 0.2,1.5 0.1,2.5 0,3.5 0.1,4.5 0.1,8.6 0.4,11.1 0.4",
"-3.2 0,-2.6 4.8,-2.7 2.5,-2.4 2.0,-2.1 1.6,-1.8 1.3,-1.5 1.0,-2.8 -0.4,-2.5 -0.8,-2.2 -1.2,-1.9 -1.5,-1.6 -1.9,-1.3 -2.2,-1.0 -2.4,-2.6 0.1,-2.3 -0.3,-2.0 -0.6,-1.7 -1.0,-1.4 -1.3,-1.1 -1.6,-2.9 -2.2,-2.7 -2.8,-2.5 -3.3,-2.3 -3.8,-2.1 -4.2,-1.9 -4.6,-1.6 -5.1,-1.3 0.4,-1.0 -0.4,-0.8 0.7,-0.5 -0.2,-0.3 0.5,0 -0.6,0.2 0.2,0.5 0.8,0.7 -0.3,1.0 0.4,1.2 -0.6,1.5 0.1,1.7 0.6,2.0 -0.3,2.2 0.3,2.5 -0.1,2.7 0.5,3.0 -0.4,3.2 0.2,3.5 0,3.7 0.4,4.0 -0.2,4.2 0.3,4.5 0,4.8 0.3,5.1 -0.1,5.4 0.3,5.8 0.1,6.2 0.3,6.6 0.2,0.8 0.1,2.4 0.1,3.9 0.1,7.2 0.4,8.9 0.3,11.8 0.4",
"-3.2 0,-2.6 2.6,-2.3 2.0,-2.0 1.5,-1.7 1.2,-1.4 0.9,-2.8 -0.4,-2.5 -0.8,-2.2 -1.2,-1.9 -1.5,-1.6 -1.9,-1.3 -2.2,-1.0 -2.4,-2.6 0.1,-2.3 -0.3,-2.0 -0.6,-1.7 -1.0,-1.4 -1.3,-2.9 -2.2,-2.7 -2.8,-2.5 -3.3,-2.3 -3.8,-2.1 -4.2,-1.9 -4.6,-1.7 -5.0,-1.5 -5.4,-1.2 0.3,-0.9 -0.4,-0.7 0.6,-0.4 -0.2,-0.1 0.5,0.2 -0.6,0.4 0.2,0.7 0.7,0.9 -0.3,1.2 0.3,1.5 -0.5,1.7 0.5,2.0 0,2.3 -0.3,2.5 0.4,2.8 -0.1,3.1 0.3,3.4 -0.3,3.7 0.2,4.0 0,4.3 0.3,4.6 -0.1,4.9 0.3,5.3 0.1,5.7 0.3,6.1 0.1,6.6 0.3,1.0 0.1,2.6 0.1,8.0 0.4,9.2 0.3,11.7 0.4",
"-3.2 0,-2.7 1.6,-2.4 1.3,-2.1 1.0,-1.8 0.8,-1.5 0.6,-2.8 -0.4,-2.5 -0.8,-2.2 -1.2,-1.9 -1.5,-1.6 -1.9,-1.3 -2.1,-2.6 0.1,-2.3 -0.3,-2.0 -0.6,-1.7 -0.9,-1.4 -1.2,-2.9 -2.2,-2.7 -2.8,-2.5 -3.3,-2.3 -3.8,-2.1 -4.2,-1.9 -4.6,-1.7 -5.0,-1.5 -5.4,-1.2 0.3,-0.9 -0.4,-0.6 0.5,-0.3 -0.2,0 0.4,0.3 -0.5,0.6 0.1,0.9 0.6,1.2 -0.2,1.5 0.3,1.8 -0.4,2.1 0.1,2.4 0.5,2.7 -0.2,3.0 0.2,3.3 -0.3,3.6 0.3,3.9 0,4.2 0.3,4.5 -0.1,4.8 0.2,5.2 0,5.6 0.3,6.0 0.1,6.5 0.3,7.0 0.2,8.0 0.3,9.6 0.4,11.0 0.4,11.5 0.4",
"-3.2 0,-2.6 2.2,-2.3 1.7,-2.0 1.3,-1.7 1.0,-1.4 0.8,-2.8 -0.4,-2.5 -0.8,-2.2 -1.2,-1.9 -1.5,-1.6 -1.9,-1.3 -2.2,-2.6 0.1,-2.3 -0.3,-2.0 -0.6,-1.7 -1.0,-1.4 -1.3,-2.9 -2.2,-2.7 -2.8,-2.5 -3.3,-2.3 -3.8,-2.1 -4.2,-1.9 -4.6,-1.7 -5.0,-1.5 -5.4,-1.2 0.3,-0.9 -0.4,-0.7 0.6,-0.4 -0.2,-0.1 0.5,0.2 -0.6,0.4 0.2,0.7 0.7,0.9 -0.3,1.2 0.3,1.5 -0.5,1.7 0.5,2.0 0,2.3 -0.3,2.5 0.4,2.8 -0.1,3.1 0.3,3.4 -0.3,3.7 0.2,4.0 0,4.3 0.3,4.6 -0.1,4.9 0.3,5.3 0.1,5.7 0.3,6.1 0.1,6.6 0.3,1.0 0.1,2.6 0.1,7.8 0.4,9.0 0.4,11.4 0.4"
];

// further non-significant genes packed in the dense core of each cloud
const nsCorePoints = [
"0.3 0.4,0.7 -0.5,1.2 0.6,1.4 -0.4,1.7 0.3,2.0 0.1,2.3 -0.4,2.4 0.7,2.8 0.2,3.0 -0.6,3.2 0.1,3.5 0.6,3.8 -0.3,4.1 0.3,4.3 -0.2,4.6 0.4,4.9 -0.4,5.1 0.2,5.5 -0.3,5.8 0.5,0.0 0.5,0.5 -0.1,0.9 0.3,1.1 -0.7,1.6 -0.1,1.9 0.5,2.2 -0.1,2.6 0.4,2.9 -0.2,3.3 0.3,3.6 -0.5,3.9 0.0,4.2 0.6,4.5 -0.1,4.8 0.2,5.3 0.0,-0.4 0.0,-0.8 0.4,-1.0 -0.2,0.2 -0.3",
"0.4 0.3,1.0 -0.4,1.8 0.5,2.2 -0.2,2.8 0.2,3.4 -0.5,3.9 0.4,4.4 -0.1,4.9 0.4,5.4 -0.3,5.9 0.2,6.4 0.4,0.8 0.6,2.6 -0.6,3.2 0.3,4.1 0.1",
"0.2 0.4,0.6 -0.3,0.9 0.2,1.3 -0.6,1.5 0.5,1.9 0.0,2.2 -0.3,2.6 0.6,2.9 -0.1,3.2 0.4,3.4 -0.5,3.7 0.1,4.0 0.5,4.3 -0.2,4.7 0.3,5.0 -0.5,5.3 0.1,5.6 0.5,6.0 -0.2,6.3 0.2,0.0 -0.6,0.4 0.7,1.1 0.0,1.7 -0.3,2.0 0.3,2.4 -0.1,2.7 0.3,3.0 -0.6,3.5 0.3,3.9 -0.1,4.4 0.3,4.9 0.2,5.4 -0.1,-0.7 0.2,-1.0 -0.7,-0.3 -0.4",
"0.1 0.5,0.4 -0.4,0.8 0.1,1.0 -0.6,1.3 0.5,1.6 -0.1,1.9 0.4,2.2 -0.5,2.5 0.1,2.8 0.6,3.1 -0.2,3.4 0.3,3.7 -0.4,4.0 0.1,4.3 0.5,4.6 -0.3,4.9 0.3,5.2 -0.1,5.5 0.3,5.8 -0.4,6.1 0.2,0.6 0.4,1.2 0.2,1.8 -0.4,2.3 0.3,2.9 -0.3,3.5 0.5,4.1 -0.1,4.7 0.1,5.3 0.5,-0.4 -0.2,-0.8 0.6,-1.2 0.1,0.3 -0.9,1.5 0.8,2.6 -0.8,3.3 0.0,4.5 -0.6,0.9 -0.2,2.0 0.0,3.8 0.4,5.0 -0.2,-0.2 0.8,1.1 -0.3",
"0.2 0.4,0.5 -0.3,0.8 0.7,1.0 -0.5,1.4 0.2,1.7 -0.2,1.9 0.5,2.2 -0.6,2.5 0.3,2.8 -0.1,3.1 0.5,3.4 -0.3,3.7 0.2,4.0 -0.2,4.3 0.5,4.6 -0.4,4.9 0.4,5.2 0.0,5.5 -0.3,5.9 0.3,6.2 0.1,0.7 0.1,1.2 -0.9,1.6 0.6,2.0 0.1,2.6 -0.5,3.0 0.2,3.6 0.5,4.1 -0.6,4.5 0.2,5.0 -0.2,5.7 0.4,-0.5 0.2,-0.9 -0.4,-1.3 0.7,0.0 -0.6,1.1 0.4,2.3 0.6,3.3 -0.5,4.4 0.0",
"0.2 -0.4,0.6 0.5,1.0 -0.2,1.4 0.4,1.7 -0.6,2.0 0.3,2.4 -0.3,2.7 0.2,3.0 0.6,3.3 -0.2,3.6 0.4,3.9 -0.5,4.2 0.2,4.5 -0.1,4.9 0.5,5.2 -0.3,5.6 0.2,6.0 0.0,0.9 0.6,1.9 -0.1,2.9 -0.5,3.8 0.1,4.7 -0.4,-0.3 0.3,-0.9 -0.4,0.4 -0.8,1.2 0.1,2.2 0.5,3.2 0.1,4.1 0.4",
"0.3 0.3,0.7 -0.4,1.1 0.4,1.4 -0.2,1.8 0.2,2.1 -0.5,2.4 0.5,2.7 0.0,3.1 -0.3,3.4 0.3,3.7 -0.1,4.1 0.4,4.5 -0.4,4.8 0.1,5.2 0.4,5.6 -0.2,6.0 0.2,0.0 0.6,0.9 -0.7,1.6 0.6,2.3 0.0,3.0 0.5,3.9 -0.4,4.3 0.0,5.0 0.3,-0.5 -0.4,-1.1 0.3,1.3 0.2,2.6 -0.3,3.6 0.2",
"0.1 0.3,0.5 -0.5,0.8 0.4,1.2 -0.2,1.5 0.3,1.8 -0.6,2.1 0.5,2.4 -0.1,2.7 0.3,3.0 -0.4,3.3 0.5,3.6 -0.1,3.9 0.3,4.2 -0.3,4.5 0.4,4.8 -0.5,5.1 0.2,5.4 -0.1,5.7 0.4,6.1 0.0,0.6 0.0,1.4 0.6,2.2 -0.4,3.1 0.1,3.8 -0.5,4.6 0.0,5.3 0.4,-0.4 0.5,-0.9 -0.2,0.3 -0.8,1.0 0.1,2.5 0.6,3.5 -0.3,4.4 0.5",
"0.3 0.4,0.7 -0.3,1.0 0.2,1.3 -0.5,1.7 0.5,2.0 -0.1,2.3 0.3,2.6 -0.4,2.9 0.5,3.3 -0.2,3.6 0.2,3.9 -0.5,4.2 0.4,4.6 0.0,4.9 -0.3,5.3 0.3,5.6 -0.1,6.0 0.4,6.4 0.1,6.8 0.3,0.8 0.6,1.6 -0.1,2.4 0.1,3.1 0.4,4.0 0.1,4.8 0.4,-0.3 -0.3,-0.8 0.3,0.1 -0.7,1.9 -0.6,3.4 -0.6",
"0.1 0.5,0.4 -0.2,0.8 0.3,1.1 -0.6,1.4 0.4,1.7 0.0,2.0 -0.4,2.3 0.6,2.6 -0.1,2.9 0.3,3.2 -0.5,3.5 0.4,3.8 0.0,4.1 -0.3,4.4 0.5,4.7 -0.2,5.0 0.3,5.3 -0.4,5.6 0.2,6.0 0.5,6.4 -0.1,0.6 -0.6,1.3 0.1,1.9 0.5,2.5 -0.5,3.1 0.1,3.7 0.6,4.3 -0.1,4.9 0.6,5.5 0.0,-0.5 0.1,-0.9 0.6,-1.2 -0.3,0.2 -1.0,2.2 0.2,3.4 -0.2,4.6 0.2",
"0.1 0.4,0.4 -0.3,0.7 0.6,1.0 -0.1,1.3 0.7,1.6 -0.4,1.9 0.3,2.2 0.6,2.5 -0.3,2.8 0.4,3.1 -0.1,3.4 0.5,3.7 0.0,4.0 -0.4,4.3 0.6,4.6 0.1,4.9 -0.2,5.2 0.5,5.5 0.0,5.8 0.5,6.1 -0.2,6.4 0.3,0.6 0.0,1.2 0.4,1.8 -0.2,2.4 0.2,3.0 0.7,3.6 -0.3,4.2 0.3,4.8 0.6,5.4 -0.2,6.0 0.4,-0.4 0.2,-0.8 -0.3,-1.2 0.6,0.3 -0.8,1.5 0.1,2.7 -0.6,3.9 0.5,5.1 0.1,0.9 -0.5,2.1 0.0,3.3 0.2,4.5 -0.4,5.7 0.1,7.0 0.4,-0.1 0.8",
"0.3 -0.3,0.6 0.4,1.0 -0.5,1.3 0.3,1.6 -0.1,1.9 0.5,2.3 -0.4,2.6 0.2,2.9 -0.1,3.2 0.5,3.6 -0.3,3.9 0.1,4.2 0.4,4.5 -0.2,4.8 0.2,5.2 -0.4,5.6 0.3,6.0 0.0,0.0 0.5,0.8 0.0,1.5 0.6,2.1 -0.2,2.8 0.4,3.4 0.0,4.1 -0.5,4.7 0.4,5.4 0.1,-0.5 -0.2,-1.0 0.5,1.2 -0.9,2.4 -0.7,3.7 0.3",
"0.2 0.3,0.6 -0.4,0.9 0.5,1.2 -0.2,1.5 0.2,1.9 -0.5,2.2 0.4,2.5 0.0,2.8 -0.3,3.1 0.5,3.4 -0.1,3.7 0.3,4.0 -0.4,4.4 0.2,4.7 -0.1,5.0 0.4,5.4 -0.3,5.8 0.2,6.2 0.0,0.5 0.7,1.4 0.5,2.0 -0.1,2.7 0.6,3.3 -0.5,4.2 0.0,4.9 -0.5,-0.3 -0.4,-0.8 0.2,0.0 0.0,1.7 0.0,3.5 0.2",
"0.4 0.4,0.9 -0.3,1.4 0.2,1.9 -0.5,2.4 0.4,2.8 -0.1,3.3 0.4,3.8 -0.2,4.3 0.4,4.8 -0.2,5.3 0.4,5.8 0.0,0.2 -0.5,1.2 0.6,2.2 0.0,3.0 -0.5,4.0 0.1,-0.5 0.3",
"0.1 0.5,0.4 -0.3,0.7 0.3,1.0 -0.6,1.3 0.5,1.6 0.0,1.9 -0.4,2.2 0.5,2.5 -0.1,2.8 0.3,3.1 -0.5,3.4 0.4,3.7 -0.1,4.0 0.3,4.3 -0.4,4.6 0.4,4.9 -0.1,5.2 0.3,5.5 -0.3,5.8 0.2,6.1 0.5,6.5 0.2,0.6 0.7,1.2 -0.2,1.8 0.3,2.4 -0.6,3.0 0.1,3.6 0.6,4.2 0.0,4.8 0.5,5.4 0.0,-0.4 -0.1,-0.8 0.5,-1.2 -0.6,0.3 0.0,1.5 -0.8,2.7 0.5,3.9 -0.3,5.1 0.2,0.9 0.2,2.1 0.1,3.3 0.1,4.5 0.1,5.7 0.4,6.9 0.1",
"0.2 0.4,0.6 -0.3,0.9 0.1,1.3 0.5,1.6 -0.5,1.9 0.2,2.3 -0.2,2.6 0.5,2.9 -0.4,3.2 0.2,3.6 0.0,3.9 0.4,4.2 -0.3,4.5 0.1,4.9 0.4,5.2 -0.2,5.6 0.2,6.0 0.4,0.0 -0.5,1.0 -0.2,1.7 0.6,2.4 0.0,3.0 0.4,3.7 -0.5,4.4 0.3,5.0 0.0,-0.6 0.1,-1.0 -0.4,2.0 -0.7,3.4 -0.3",
"0.0 0.3,0.4 -0.4,0.8 0.5,1.1 -0.2,1.4 0.2,1.8 -0.5,2.1 0.4,2.4 0.0,2.8 -0.4,3.1 0.4,3.4 -0.1,3.8 0.3,4.1 -0.3,4.4 0.4,4.8 -0.1,5.1 0.2,5.4 -0.3,5.8 0.4,6.2 0.1,0.6 0.0,1.3 0.6,2.0 -0.1,2.6 0.5,3.3 -0.5,4.0 0.1,4.6 -0.5,5.3 0.5,-0.5 -0.2,-0.9 0.4,0.2 -0.9,1.6 0.1,3.6 0.2",
"0.3 0.3,0.7 -0.3,1.1 0.5,1.4 -0.1,1.8 0.3,2.1 -0.5,2.5 0.1,2.8 0.5,3.2 -0.2,3.5 0.2,3.9 -0.4,4.2 0.4,4.6 -0.1,5.0 0.3,5.4 -0.2,5.8 0.3,6.2 0.0,0.0 -0.5,0.9 0.1,1.6 -0.4,2.3 0.4,3.0 0.0,3.7 0.5,4.4 0.0,5.2 0.5,-0.6 0.4,-1.0 -0.3,2.0 -0.8",
"0.2 0.4,0.6 -0.4,0.9 0.2,1.3 -0.2,1.6 0.5,1.9 -0.5,2.3 0.3,2.6 -0.1,2.9 0.5,3.2 -0.3,3.6 0.2,3.9 -0.4,4.2 0.4,4.5 -0.1,4.9 0.3,5.2 -0.3,5.6 0.3,6.0 0.0,6.4 0.3,0.0 -0.2,0.8 0.6,1.5 0.0,2.2 -0.3,2.8 0.3,3.4 0.0,4.1 0.0,4.8 -0.4,5.4 0.1,-0.5 0.4,-0.9 -0.4,1.1 -0.8,3.7 0.5",
"0.2 0.3,0.6 -0.4,1.0 0.5,1.3 -0.1,1.6 0.3,2.0 -0.5,2.3 0.4,2.6 0.0,3.0 -0.3,3.3 0.4,3.6 -0.1,4.0 0.3,4.3 -0.4,4.6 0.2,5.0 -0.1,5.3 0.3,5.7 -0.2,6.1 0.2,6.5 0.4,0.0 0.6,0.8 0.0,1.5 -0.5,2.2 0.1,2.9 0.5,3.8 -0.5,4.5 0.5,-0.5 -0.2,-0.9 0.3,1.2 0.8,2.5 -0.7",
"0.3 0.3,0.8 -0.3,1.3 0.4,1.7 -0.2,2.1 0.2,2.5 -0.4,2.9 0.3,3.3 -0.1,3.7 0.4,4.1 -0.3,4.5 0.3,4.9 -0.1,5.3 0.3,5.7 0.0,6.1 0.3,0.0 -0.4,1.0 0.1,2.0 0.5,3.0 -0.4,4.0 0.5,4.8 0.2,-0.6 0.1,1.5 -0.6",
"0.2 0.3,0.6 -0.4,1.0 0.4,1.3 -0.2,1.7 0.3,2.0 -0.5,2.4 0.2,2.7 -0.1,3.1 0.4,3.4 -0.3,3.8 0.2,4.1 -0.4,4.5 0.3,4.8 -0.1,5.2 0.3,5.6 -0.2,6.0 0.2,0.0 0.6,0.8 0.0,1.5 0.6,2.2 -0.2,2.9 0.3,3.6 0.0,4.3 0.1,5.0 -0.3,-0.6 -0.3,-1.0 0.4,1.1 -0.8,3.3 -0.6",
"0.1 0.4,0.4 -0.3,0.7 0.5,1.0 -0.5,1.3 0.2,1.6 -0.1,1.9 0.5,2.2 -0.4,2.5 0.2,2.8 0.6,3.1 -0.2,3.4 0.3,3.7 -0.5,4.0 0.2,4.3 0.5,4.6 -0.2,4.9 0.3,5.2 -0.1,5.5 0.4,5.8 -0.3,6.2 0.2,6.6 0.0,0.6 0.0,1.2 0.6,1.8 -0.5,2.4 0.0,3.0 0.4,3.6 0.0,4.2 -0.3,4.8 0.5,5.4 0.1,-0.4 0.2,-0.8 -0.5,-1.2 0.4,0.3 -0.8,1.5 0.4,2.7 -0.3,3.9 0.6,5.1 -0.4,0.9 0.2,2.1 0.1,3.3 -0.5,4.5 0.0",
"0.1 0.3,0.4 -0.4,0.7 0.6,1.0 -0.1,1.3 0.4,1.6 -0.5,1.9 0.2,2.2 0.6,2.5 -0.2,2.8 0.3,3.1 -0.4,3.4 0.5,3.7 0.0,4.0 0.4,4.3 -0.2,4.6 0.5,4.9 0.0,5.2 -0.3,5.5 0.4,5.8 0.0,6.2 0.3,6.6 0.1,0.6 0.1,1.2 -0.6,1.8 0.5,2.4 -0.5,3.0 0.2,3.6 -0.3,4.2 0.7,4.8 -0.4,5.4 0.2,-0.4 -0.3,-0.8 0.5,-1.2 0.0,0.3 0.8,1.5 0.1,2.7 -0.1,3.9 -0.5,5.1 0.5,0.9 -0.6,2.1 0.0,3.3 0.2,4.5 0.2",
"0.2 0.3,0.6 -0.4,1.0 0.4,1.3 -0.1,1.7 0.3,2.0 -0.5,2.4 0.4,2.7 0.0,3.1 -0.3,3.4 0.3,3.8 -0.1,4.1 0.4,4.5 -0.3,4.8 0.2,5.2 -0.1,5.6 0.3,6.0 0.0,0.0 -0.6,0.8 0.6,1.5 0.0,2.2 -0.2,2.9 0.5,3.6 0.1,4.3 -0.5,5.0 0.4,-0.5 0.3,-0.9 -0.2,1.2 -0.8,3.3 -0.6",
"0.3 0.3,0.8 -0.3,1.3 0.5,1.8 -0.2,2.3 0.3,2.8 -0.4,3.3 0.4,3.8 0.0,4.3 0.4,4.8 -0.2,5.3 0.3,0.0 -0.5,1.5 0.1,2.6 0.0,4.0 -0.2",
"0.3 -0.3,0.8 0.4,1.3 -0.2,1.8 0.3,2.3 -0.4,2.8 0.2,3.3 -0.2,3.8 0.3,4.3 -0.1,4.9 0.3,5.5 0.0,1.0 0.7,2.0 -0.6",
"0.3 0.3,0.8 -0.3,1.3 0.4,1.8 -0.2,2.3 0.3,2.8 -0.4,3.3 0.3,3.8 -0.1,4.3 0.4,4.8 -0.2,5.4 0.2,0.0 -0.5,1.5 0.6,3.0 0.0"
];

// significantly up-regulated genes
const upPoints = [
"1.6 1.3,2.2 0.8,2.9 0.8,3.1 0.9,3.3 0.8,3.7 0.8,3.9 0.9,4.0 0.7,4.1 1.0,4.3 1.0,4.6 1.0,4.7 1.5,4.8 0.9,5.0 0.8,5.3 0.6,6.2 0.9,6.5 1.0,7.9 0.7,8.0 0.7,8.6 0.7",
"2.1 1.3,3.0 1.1,4.2 0.7,4.4 0.8,4.7 0.7,4.8 1.4,5.1 0.9,5.5 0.7,6.0 0.8,6.1 1.1,6.5 0.8,6.9 1.0,7.2 0.8,7.7 0.7,8.3 0.8,9.1 0.8,9.6 0.8",
"1.3 1.2,2.5 1.1,2.8 1.0,3.1 0.8,3.5 1.0,4.0 0.7,4.5 1.0,4.8 0.9,5.2 1.0,5.6 1.1,5.8 0.7,6.4 0.8,7.8 1.0,8.0 1.2,8.4 0.9,8.8 0.5,9.4 0.5,10.7 0.5,11.2 0.5,11.6 0.5,11.8 0.8",
"-1.05 2.3,2.0 1.4,3.1 1.4,4.4 1.5,3.3 0.8,4.9 0.8,5.4 0.8,5.9 0.8,6.4 0.7,6.9 0.8,7.2 1.0,7.5 0.9,8.0 1.0,8.3 0.8,10.0 0.7,12.4 0.7",
"4.4 2.1,2.1 1.1,2.5 1.0,2.9 0.8,3.4 0.7,3.9 0.65,4.2 0.8,4.8 1.0,5.2 0.8,5.7 1.1,6.3 0.8,6.8 0.8,7.3 0.7,7.6 0.9,9.2 0.5,10.9 0.5,11.7 0.5,11.9 0.5",
"-0.65 8.2,0.4 2.5,3.3 1.1,3.8 0.9,4.3 1.0,4.7 0.8,5.0 0.8,5.5 0.8,6.0 0.7,6.3 0.7,7.0 0.9,7.5 0.55,8.0 0.55,8.4 0.55,9.1 0.45,11.9 0.8,12.4 0.65",
"1.4 1.0,1.8 1.0,2.2 1.0,2.5 0.7,3.0 0.8,3.5 0.65,4.0 1.2,4.4 0.7,4.9 0.8,5.4 0.65,5.8 0.8,6.5 1.0,7.1 0.65,7.6 0.75,8.3 1.4,8.2 0.55,10.1 1.0,10.4 0.65",
"1.15 1.4,2.1 0.8,2.6 0.75,3.1 0.8,3.5 1.0,4.1 0.8,4.6 0.8,5.1 0.7,5.9 0.65,6.4 0.8,6.9 0.65,7.4 0.7,7.7 1.4,8.0 0.55,9.6 0.7",
"1.9 0.9,3.0 1.2,3.7 0.8,4.2 1.0,4.8 0.7,5.2 0.65,5.7 0.8,6.8 0.75,7.5 0.75,8.1 1.0,8.4 0.75,10.9 1.1,11.1 0.9,12.4 0.8",
"0.6 3.9,1.4 1.9,2.4 2.6,2.9 1.6,3.8 1.6,6.1 2.7,7.6 1.7,1.1 1.0,1.2 1.2,1.6 1.1,1.9 0.8,2.2 1.2,2.5 1.0,2.7 0.65,2.9 1.1,3.2 0.8,3.5 1.2,3.8 1.0,4.1 0.8,4.3 1.1,4.5 0.55,4.7 0.8,5.0 1.0,5.3 1.2,5.5 0.65,5.7 0.9,5.9 0.75,6.3 1.1,6.4 0.55,6.6 0.8,7.0 1.0,7.3 0.75,7.6 0.8,8.2 0.7,11.0 1.0,12.6 0.75",
"-0.7 2.0,0.1 1.75,0.4 1.6,0.6 1.2,0.8 0.9,1.0 1.3,1.2 1.0,1.3 1.5,1.5 0.8,1.6 1.2,1.8 1.0,1.9 1.4,2.0 0.7,2.1 1.1,2.3 1.3,2.4 0.9,2.5 1.5,2.6 0.8,2.7 1.1,2.9 1.3,3.0 0.9,3.1 1.6,3.2 1.1,3.3 0.7,3.4 1.3,3.5 1.0,3.6 1.5,3.7 0.8,3.8 1.2,3.9 1.6,4.0 0.9,4.1 1.3,4.2 0.7,4.3 1.1,4.4 1.5,4.5 0.9,4.6 1.2,4.7 1.8,4.8 0.8,4.9 1.3,5.0 1.0,5.1 1.6,5.2 0.8,5.3 1.2,5.5 1.4,5.6 0.9,5.8 1.1,5.9 0.7,6.1 1.3,6.2 0.9,6.4 1.1,6.6 0.8,6.8 1.2,7.0 0.9,7.2 1.3,7.5 0.8,7.8 1.1,8.1 0.8,8.5 1.9,8.9 1.0,10.7 0.55,11.3 0.5,12.0 0.65,13.7 1.5",
"2.9 1.0,3.8 0.75,4.2 1.1,4.7 0.8,5.1 1.0,5.2 0.65,7.3 0.55,7.4 0.75,8.5 0.65,9.1 0.4,11.8 0.7",
"1.2 1.1,2.2 0.8,2.6 1.0,3.0 0.8,3.7 0.75,4.0 0.8,4.6 1.0,5.0 0.7,5.5 0.65,5.8 0.75,7.3 0.85,7.8 0.65,8.4 0.65,11.1 0.65,11.5 0.8,12.0 0.8",
"-0.6 2.2,-0.4 2.1,2.4 1.1,2.9 0.8,3.3 0.7,4.2 0.8,4.7 0.7,5.4 0.8,5.8 0.75,6.1 0.75,7.0 0.7,7.6 0.55,8.3 0.55,10.9 0.55,12.2 0.55",
"1.3 1.5,2.2 0.8,2.5 0.7,3.0 0.7,3.5 1.0,4.0 0.8,4.5 1.0,5.0 0.8,5.3 1.0,5.65 1.1,6.1 1.0,6.5 0.8,7.0 0.7,7.4 0.55,7.9 0.65,9.6 0.8,10.6 0.55,11.0 0.7,11.5 0.55,12.0 0.65,12.5 0.55,13.3 0.7",
"0.8 1.1,2.1 0.8,2.8 0.8,3.3 0.7,3.6 0.8,4.2 0.9,4.6 1.1,4.9 0.8,5.2 0.7,5.6 0.8,6.0 0.75,6.5 0.65,7.2 0.55,7.7 0.65,8.2 0.8,8.6 0.7,9.3 0.55,10.0 0.75,12.3 0.55",
"-0.7 2.0,1.3 1.0,1.7 1.1,2.2 1.0,2.9 0.7,3.4 1.0,3.9 1.4,4.3 0.7,4.8 1.0,5.2 0.8,5.7 1.3,6.0 1.0,6.6 0.8,7.3 0.7,8.0 1.1,8.6 0.8,9.4 0.8,10.7 0.8,10.9 0.65",
"2.2 1.3,2.9 0.8,3.5 1.0,4.4 1.1,4.8 0.7,5.3 1.2,5.8 0.8,6.1 0.55,7.0 0.8,7.45 0.75,8.1 0.55,10.2 0.65,10.7 0.65,11.2 0.75",
"0.25 2.1,1.1 1.2,1.6 0.8,2.1 1.0,2.55 0.8,3.0 1.0,3.5 0.8,4.0 0.7,4.45 0.9,4.85 1.1,5.2 1.0,5.5 1.2,5.8 0.8,6.3 0.8,6.6 1.4,7.1 1.1,7.6 0.8,8.1 0.8,8.9 1.0,10.6 0.8,12.5 0.8",
"-0.8 3.5,1.0 1.1,1.6 0.8,2.45 0.7,2.9 0.55,3.4 0.7,4.1 0.65,4.5 0.7,4.9 0.75,5.7 0.8,6.0 1.0,6.5 0.7,7.0 0.8,7.8 0.8,8.6 1.1,8.8 1.0,10.4 1.1,10.9 1.1,11.7 0.7,10.7 0.65",
"0.65 1.2,1.75 1.5,1.75 1.1,2.4 0.8,2.8 0.7,3.2 0.65,3.5 0.75,4.0 0.65,4.6 1.0,5.0 0.75,5.5 0.7,6.0 0.8,6.8 0.65,7.3 0.65,8.4 0.7,8.8 0.55,9.5 0.9,11.9 0.7,12.2 0.75",
"-0.6 2.0,2.5 0.7,2.9 0.55,3.5 0.8,4.0 0.65,4.4 0.8,4.8 0.75,5.2 0.65,5.8 0.75,7.9 1.1,8.3 0.7,9.1 0.55,10.1 0.8,12.4 0.75",
"1.2 1.2,1.6 0.9,2.0 1.1,2.3 0.8,2.6 1.0,2.9 1.3,3.1 0.8,3.4 1.0,3.7 0.8,3.9 1.1,4.2 0.9,4.4 0.7,4.7 1.0,4.9 0.8,5.2 1.2,5.4 0.8,5.7 0.9,6.0 0.7,6.3 1.0,6.6 0.8,6.9 0.7,7.3 0.9,7.7 0.7,8.2 0.8,8.8 0.6,9.5 0.7,10.3 0.6,11.2 0.6,12.0 0.7",
"0.9 1.2,1.2 0.9,1.5 1.3,1.7 1.0,1.9 1.6,2.1 0.8,2.3 1.2,2.5 1.0,2.7 1.4,2.9 0.8,3.1 1.1,3.3 1.5,3.5 0.9,3.7 1.2,3.9 0.8,4.1 1.3,4.3 1.0,4.5 1.6,4.7 0.8,4.9 1.1,5.1 1.4,5.3 0.9,5.5 1.2,5.7 0.8,5.9 1.0,6.1 1.3,6.3 0.8,6.5 1.1,6.7 0.9,6.9 1.2,7.2 0.8,7.5 1.0,7.8 0.8,8.2 1.0,8.6 0.7,9.2 0.7,9.8 0.6,11.0 0.6,12.3 0.7",
"1.6 1.0,2.0 0.8,2.4 1.1,2.8 0.8,3.2 1.0,3.6 0.7,4.0 0.9,4.4 0.8,4.8 1.0,5.2 0.7,5.7 0.8,6.3 0.8,6.9 0.7,7.6 0.8,8.3 0.7",
"2.2 0.8,2.8 0.9,3.4 0.7,4.0 0.8,4.6 0.9,5.2 0.8,5.8 0.7,6.5 0.8,7.2 0.7,8.0 0.7",
"0.1 2.3,0.4 1.5,4.4 0.8,5.6 0.7,7.3 0.7",
"3.0 0.8,3.6 0.7,4.3 0.9,5.0 0.8,5.6 0.8,6.3 0.7,7.5 0.7,9.3 0.7"
];

// significantly down-regulated genes
const downPoints = [
"-0.9 -6.4,0.8 -1.5,1.0 -1.6,1.5 -1.3,1.9 -1.1,2.2 -1.2,2.6 -0.9,3.0 -0.8,3.2 -1.1,3.5 -0.7,3.7 -0.9,4.0 -0.8,4.2 -0.6,4.4 -0.9,4.8 -0.7,6.4 -0.9,6.5 -0.6",
"0 -3.6,0.85 -8.3,2.2 -2.2,2.5 -1.3,2.9 -2.2,3.2 -0.7,3.8 -0.8,4.2 -0.7,4.5 -2.4,4.8 -0.55,5.7 -2.3,5.8 -0.7,6.6 -0.7,7.4 -0.55,7.9 -0.55",
"0.6 -3.4,1.3 -1.5,1.4 -2.1,1.3 -1.7,2.2 -1.1,2.8 -1.4,3.4 -1.0,3.9 -0.8,4.2 -0.7,4.8 -0.55,5.2 -0.55,6.1 -0.55,6.7 -0.9,7.1 -0.9,3.1 -0.9,3.7 -0.7",
"0.65 -2.5,1.0 -1.9,2.0 -2.3,2.8 -1.9,2.9 -1.4,3.3 -1.1,3.8 -1.2,4.2 -0.8,4.4 -0.55,4.9 -1.4,5.1 -0.7,1.6 -1.1,2.3 -1.1,3.7 -0.55,4.6 -0.55",
"-0.3 -3.3,0 -3.7,0.5 -2.2,0.85 -2.2,1.4 -1.1,1.7 -1.3,2.2 -1.2,2.3 -3.2,2.7 -1.1,3.0 -1.5,3.5 -1.0,4.0 -0.8,4.2 -0.7,5.0 -0.55,5.5 -0.7,5.8 -0.55,3.0 -1.3",
"2.2 -4.5,2.7 -1.1,2.9 -1.6,3.2 -1.6,3.5 -2.1,3.9 -2.5,3.0 -0.8,3.5 -0.7,4.0 -1.1,5.1 -0.55,3.7 -1.4,5.2 -0.7",
"-0.3 -3.4,0 -3.0,0.35 -2.6,2.5 -1.1,3.0 -0.9,3.5 -0.8,4.0 -0.8,4.7 -0.8,5.0 -0.8,5.8 -0.8",
"0.9 -3.2,1.15 -8.6,2.9 -2.8,2.0 -1.0,2.45 -1.4,2.8 -1.3,3.1 -0.8,3.5 -1.1,3.9 -0.8,4.4 -1.1,4.8 -1.3,5.2 -0.8,6.5 -0.7,4.2 -0.55,4.7 -0.7",
"1.0 -2.3,1.0 -1.5,1.2 -1.6,1.9 -1.0,2.4 -1.1,2.9 -1.0,3.4 -0.8,3.9 -0.8,4.4 -0.7,5.2 -0.55,6.8 -0.55,7.8 -1.1,2.2 -0.8",
"0 -2.7,0.75 -1.9,1.2 -1.6,1.6 -1.9,2.0 -1.3,2.55 -1.0,3.0 -0.8,3.4 -0.8,4.2 -0.8,5.0 -0.7,5.2 -1.3,4.7 -0.8,5.7 -0.7,-0.4 -6.9",
"-0.4 -6.9,1.1 -2.5,1.6 -2.2,2.2 -2.1,2.5 -1.3,1.9 -1.3,2.4 -1.0,2.9 -1.1,3.3 -0.8,4.0 -1.5,4.3 -0.7,4.7 -0.8,4.9 -0.7,7.7 -0.55,9.2 -0.55,10.6 -0.7,11.0 -0.8,11.1 -0.55,3.7 -0.8",
"0.4 -4.0,0.8 -2.2,1.6 -1.9,1.6 -1.4,2.7 -1.0,2.9 -1.3,3.3 -1.1,3.9 -1.2,4.25 -0.8,4.7 -0.55,5.1 -0.55,6.5 -1.0,4.4 -0.65",
"-0.1 -3.4,0.2 -2.7,0.3 -3.2,1.4 -1.3,1.55 -2.1,1.8 -1.6,2.2 -1.3,2.7 -1.3,3.2 -0.7,3.8 -0.7,4.7 -0.8,4.8 -0.55,5.5 -0.7,6.5 -1.75,3.5 -1.0",
"1.1 -1.75,2.1 -1.8,3.2 -0.8,3.5 -0.7,4.0 -0.7,5.4 -0.7,5.6 -1.0,6.7 -1.0,6.2 -2.7,10.2 -0.8",
"-0.4 -7.0,0.85 -2.3,1.3 -2.2,1.5 -1.9,1.5 -3.8,1.9 -1.6,2.4 -1.2,2.9 -1.1,3.2 -1.4,3.5 -1.9,3.9 -0.9,4.35 -0.8,4.8 -0.7,5.3 -0.7,5.8 -0.8,6.7 -1.75,2.55 -0.7",
"-0.05 -3.7,0.15 -3.3,0.7 -2.6,1.8 -3.1,2.45 -1.1,2.9 -0.9,3.3 -1.3,4.1 -1.3,4.25 -0.8,4.4 -0.55,5.9 -1.0,8.0 -0.7,4.6 -0.65",
"0.5 -3.3,0.5 -1.9,1.25 -1.5,1.7 -1.3,2.55 -2.1,2.8 -1.75,3.0 -0.9,3.1 -1.9,3.7 -0.8,4.2 -0.8,4.8 -0.55,5.65 -1.5,3.2 -1.3",
"0.85 -2.1,0.85 -8.5,2.7 -0.8,3.0 -0.8,3.4 -1.6,4.0 -0.8,4.1 -1.1,4.35 -0.55,4.8 -0.55,5.3 -1.0",
"-0.55 -6.7,-0.4 -7.0,-0.1 -7.2,1.3 -2.8,1.6 -1.1,2.15 -1.0,2.9 -1.1,3.05 -1.2,3.5 -0.8,3.9 -1.3,4.5 -0.8,5.0 -2.9,5.3 -1.1,3.1 -1.1",
"2.3 -1.1,2.9 -0.7,3.4 -0.8,3.7 -1.2,5.2 -1.1,5.2 -0.8,6.0 -1.0,6.7 -1.0,9.3 -1.1,3.3 -0.55",
"0.25 -2.6,2.05 -1.1,2.55 -1.2,2.9 -1.0,3.2 -0.8,3.7 -0.8,4.7 -0.7,7.1 -0.7",
"1.1 -1.9,1.3 -3.7,1.6 -1.6,2.0 -1.3,2.4 -1.0,2.9 -1.0,3.3 -0.8,4.2 -0.65,4.8 -0.8,5.4 -0.8,6.1 -0.8,6.5 -0.55,7.4 -1.5",
"-0.8 -6.4,-0.6 -6.1,0.6 -2.3,1.0 -1.8,1.3 -2.6,1.6 -1.4,1.9 -1.1,2.3 -1.6,2.6 -0.9,2.9 -1.2,3.2 -0.8,3.5 -1.0,3.9 -0.7,4.2 -0.9,4.6 -0.7,5.0 -0.8,5.5 -0.6,6.1 -0.7,6.8 -0.6",
"0.6 -3.3,1.0 -2.4,1.4 -1.9,1.8 -2.9,2.1 -1.4,2.4 -1.8,2.7 -1.1,3.0 -1.5,3.3 -0.9,3.6 -1.3,3.9 -0.8,4.2 -1.1,4.5 -0.7,4.8 -1.0,5.1 -0.7,5.5 -0.9,5.9 -0.7,6.4 -0.8,7.0 -0.7",
"-2.3 -7.1,0.8 -1.8,1.2 -1.4,1.6 -1.1,2.0 -1.3,2.4 -0.9,2.8 -1.1,3.2 -0.8,3.6 -1.0,4.0 -0.7,4.5 -0.8,5.0 -0.7,5.6 -0.7",
"3.0 -0.8,4.5 -0.7,5.8 -0.8",
"-0.4 -1.7,1.1 -1.1,2.6 -0.9,3.8 -0.8,5.2 -0.7",
"2.5 -0.9,3.6 -0.8,4.8 -0.7"
];

// ---- drawing ----
const parsePairs = s => s.split(",").map(t => t.trim()).filter(t => t.length)
  .map(t => { const v = t.split(/\s+/).map(Number); return {x: v[0], y: v[1]}; });

const COL_W = 312, ROW_H = 158.5;
const GREY = "#a9a9a9", PURPLE = "#7f00ff", RED = "#ff0000";

const svg = d3.select("#chart");
const x = d3.scaleLinear().domain([-4.23, 18.4]).range([42, 320]);
const y = d3.scaleLinear().domain([-9.25, 9.3]).range([137.7, 25]);

chromosomes.forEach((name, i) => {
  const g = svg.append("g")
    .attr("transform", `translate(${(i % 4) * COL_W},${Math.floor(i / 4) * ROW_H})`);

  // axes
  const xa = g.append("g").attr("transform", `translate(0,${y.range()[0]})`)
    .call(d3.axisBottom(x).tickValues(xTicks).tickSize(3).tickSizeOuter(0).tickPadding(2));
  const ya = g.append("g").attr("transform", `translate(${x.range()[0]},0)`)
    .call(d3.axisLeft(y).tickValues(yTicks).tickSize(3).tickSizeOuter(0).tickPadding(1.5));
  [xa, ya].forEach(a => {
    a.select(".domain").attr("stroke", "#333").attr("stroke-width", 1.1);
    a.selectAll(".tick line").attr("stroke", "#333");
    a.selectAll(".tick text").attr("fill", "#4d4d4d").attr("font-size", 11)
      .attr("font-family", '"Liberation Sans",Arial,sans-serif');
  });

  // points: non-significant first, then up and down on top
  const greyPts = parsePairs(nsPoints[i]).concat(parsePairs(nsCorePoints[i]));
  const layers = [
    {data: greyPts, color: GREY, r: 1.45},
    {data: parsePairs(upPoints[i]), color: PURPLE, r: 1.5},
    {data: parsePairs(downPoints[i]), color: RED, r: 1.5}
  ];
  layers.forEach(L => {
    g.append("g").selectAll("circle").data(L.data).join("circle")
      .attr("cx", d => x(d.x)).attr("cy", d => y(d.y))
      .attr("r", L.r).attr("fill", L.color);
  });

  // count annotations
  const labels = [
    {text: `${upCounts[i]}(${upUnique[i]})`, yv: 8.0, color: PURPLE},
    {text: `${nsCounts[i]}(${nsUnique[i]})`, yv: 1.0, color: GREY},
    {text: `${downCounts[i]}(${downUnique[i]})`, yv: -8.2, color: RED}
  ];
  g.selectAll("text.count").data(labels).join("text").attr("class", "count")
    .attr("x", x(15)).attr("y", d => y(d.yv))
    .attr("text-anchor", "middle").attr("dominant-baseline", "central")
    .attr("font-size", 16).attr("fill", d => d.color).text(d => d.text);

  // titles
  const cx = (x.range()[0] + x.range()[1]) / 2;
  g.append("text").attr("x", cx).attr("y", 20.8).attr("text-anchor", "middle")
    .attr("font-size", 13.4).attr("font-weight", "bold").attr("fill", "#000").text(name);
  g.append("text").attr("x", cx).attr("y", 162).attr("text-anchor", "middle")
    .attr("font-size", 13.4).attr("font-weight", "bold").attr("fill", "#000")
    .text("Mean gene expression (log2)");
  g.append("text")
    .attr("transform", `translate(22.5,${(y.range()[0] + y.range()[1]) / 2}) rotate(-90)`)
    .attr("text-anchor", "middle").attr("font-size", 13.4).attr("font-weight", "bold")
    .attr("fill", "#000").text("log2 Fold change");
});
</script>
</body></html>
